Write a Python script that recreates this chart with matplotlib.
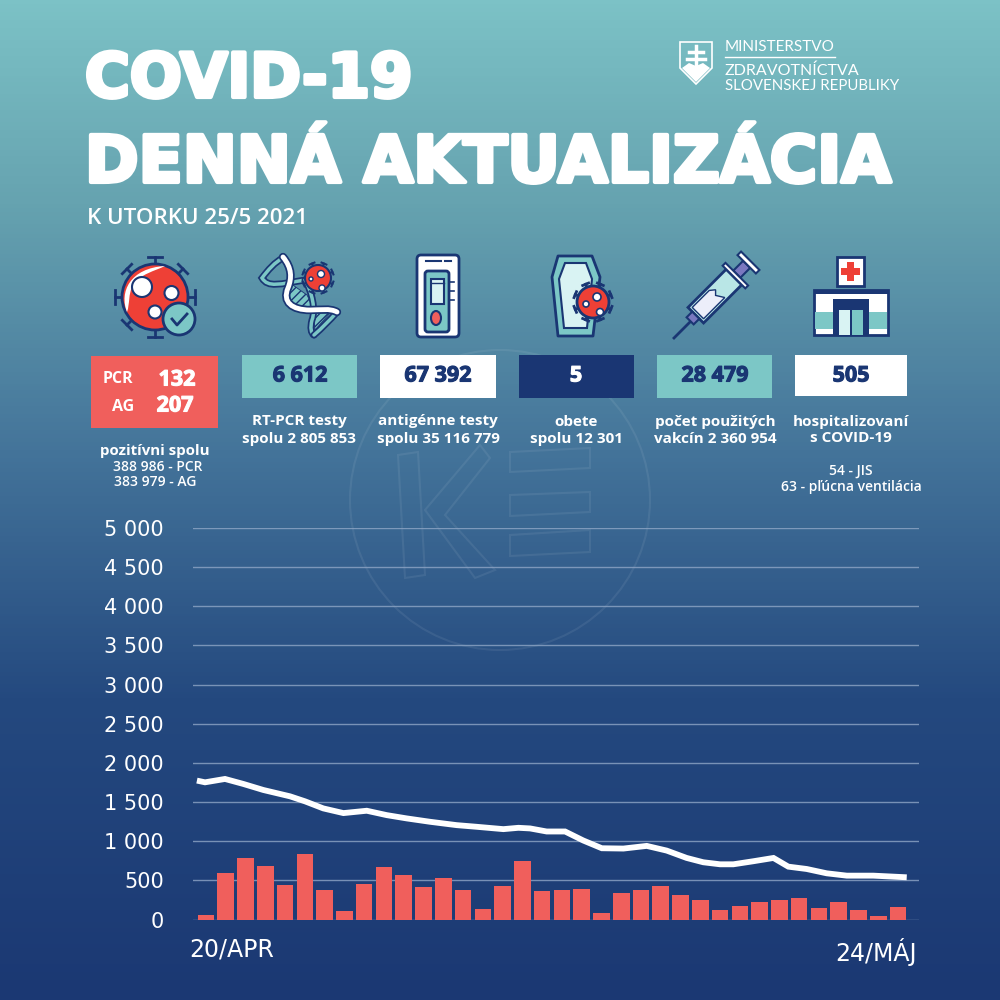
import matplotlib
matplotlib.use('Agg')
import matplotlib.pyplot as plt
import matplotlib.patheffects as pe
from matplotlib.colors import LinearSegmentedColormap
from matplotlib.patches import Circle, Rectangle, Polygon, FancyBboxPatch, Ellipse, PathPatch
from matplotlib.path import Path
import numpy as np

# daily new cases
bar_days = list(range(36))
bar_values = [55, 593, 780, 678, 443, 831, 380, 107, 456, 673, 567, 414, 524, 380, 140, 426, 746, 358,
              380, 395, 80, 335, 372, 428, 313, 249, 125, 168, 223, 244, 270, 146, 227, 125, 44, 159]

# moving average
line_days = [-0.46, -0.05, 0.96, 1.89, 2.90, 4.25, 5.01, 5.93, 6.95, 8.13, 9.14, 10.15, 11.33, 12.68,
             13.69, 15.04, 15.80, 16.39, 17.23, 18.16, 19.08, 20.02, 21.11, 22.29, 23.30, 24.31, 25.15,
             26.0, 26.67, 27.68, 28.70, 29.45, 30.38, 31.39, 32.41, 33.75, 35.44]
line_values = [1774, 1752, 1795, 1731, 1654, 1573, 1509, 1419, 1359, 1389, 1333, 1291, 1248, 1205,
               1184, 1154, 1171, 1163, 1124, 1124, 1009, 910, 906, 940, 880, 786, 731,
               705, 705, 744, 786, 675, 645, 590, 560, 560, 539]

y_ticks = [0, 500, 1000, 1500, 2000, 2500, 3000, 3500, 4000, 4500, 5000]
y_labels = ['0', '500', '1 000', '1 500', '2 000', '2 500', '3 000', '3 500', '4 000', '4 500', '5 000']

NAVY = '#1a3673'
TEAL = '#7cc7c6'
RED = '#f05f5c'
VIRUS = '#ee4036'
LIGHT = '#d9f3f3'
FONT = ['Open Sans', 'DejaVu Sans']
plt.rcParams['font.family'] = FONT

fig = plt.figure(figsize=(10, 10), dpi=100)

# background gradient
bg = fig.add_axes([0, 0, 1, 1], zorder=0)
cmap = LinearSegmentedColormap.from_list('bg', [(0, '#7cc2c6'), (0.2, '#66a3b0'), (0.45, '#44749a'),
                                                (0.7, '#24497f'), (1, '#1b3873')])
bg.imshow(np.linspace(0, 1, 500).reshape(-1, 1), cmap=cmap, aspect='auto', extent=[0, 1000, 1000, 0])
bg.set_xlim(0, 1000)
bg.set_ylim(1000, 0)
bg.axis('off')

# watermark
wm = dict(fill=False, ec='white', alpha=0.07, lw=1.5)
bg.add_patch(Circle((500, 500), 150, **wm))
bg.add_patch(Polygon([(398, 455), (418, 452), (425, 575), (405, 578)], **wm))
bg.add_patch(Polygon([(425, 510), (480, 445), (490, 458), (445, 515), (495, 570), (475, 578)], **wm))
bg.add_patch(Polygon([(510, 452), (590, 448), (590, 468), (510, 472)], **wm))
bg.add_patch(Polygon([(510, 495), (590, 492), (590, 512), (510, 516)], **wm))
bg.add_patch(Polygon([(510, 535), (590, 530), (590, 552), (510, 556)], **wm))

def txt(x, y, s, size, color='white', weight='normal', ha='center', **kw):
    kw.setdefault('va', 'center')
    return bg.text(x, y, s, fontsize=size, color=color, fontweight=weight, ha=ha, **kw)

thick = [pe.withStroke(linewidth=3, foreground='white')]
txt(85, 97, 'COVID-19', 44, weight='bold', ha='left', va='baseline', family='DejaVu Sans', path_effects=thick)
txt(85, 182, 'DENNÁ AKTUALIZÁCIA', 46.5, weight='bold', ha='left', va='baseline', family='DejaVu Sans', path_effects=thick)
txt(87, 219, 'K UTORKU 25/5 2021', 16, weight='semibold', ha='left')

# ministry logo
bg.add_patch(Polygon([(680, 42), (712, 42), (712, 68), (696, 84), (680, 68)], fc='none', ec='white', lw=1.2))
bg.add_patch(Polygon([(682, 68), (689, 63), (696, 66), (703, 63), (710, 68), (696, 82)], fc='white', ec='none'))
bg.plot([696, 696], [46, 65], color='white', lw=2.5)
bg.plot([689, 703], [52, 52], color='white', lw=2.5)
bg.plot([687, 705], [59, 59], color='white', lw=2.5)
txt(725, 47, 'MINISTERSTVO', 11, ha='left', family='Lato')
bg.plot([725, 835], [57, 57], color='white', lw=1)
txt(725, 71, 'ZDRAVOTNÍCTVA', 11.5, ha='left', family='Lato')
txt(725, 86, 'SLOVENSKEJ REPUBLIKY', 10.8, ha='left', family='Lato')

def virus(cx, cy, r, lw=2):
    for a in np.radians(np.arange(0, 360, 45) + 22.5 * (r < 30)):
        ca, sa = np.cos(a), np.sin(a)
        bg.plot([cx + r * ca, cx + (r + r * .2) * ca], [cy + r * sa, cy + (r + r * .2) * sa], color=NAVY, lw=lw)
        bg.plot([cx + 1.2 * r * ca - .2 * r * sa, cx + 1.2 * r * ca + .2 * r * sa],
                [cy + 1.2 * r * sa + .2 * r * ca, cy + 1.2 * r * sa - .2 * r * ca], color=NAVY, lw=lw)
    bg.add_patch(Circle((cx, cy), r, fc=VIRUS, ec=NAVY, lw=lw, zorder=3))

def curve(start, *segs):
    verts, codes = [start], [Path.MOVETO]
    for s in segs:
        verts += list(s)
        codes += [Path.CURVE4] * 3
    return Path(verts, codes)

# positive cases icon
virus(155, 297, 33)
crescent = curve((127, 312), [(119, 292), (130, 268), (165, 266)], [(155, 271), (140, 274), (133, 285)],
                 [(128, 294), (130, 304), (127, 312)])
bg.add_patch(PathPatch(crescent, fc='white', ec='none', zorder=4))
for c, r in [((142, 287), 10), ((171.5, 293), 7), ((155, 312), 6.5)]:
    bg.add_patch(Circle(c, r, fc='white', ec=NAVY, lw=1.5, zorder=4))
bg.add_patch(Circle((179, 319), 16, fc=TEAL, ec=NAVY, lw=2, zorder=5))
bg.plot([172, 177, 187], [319, 325, 314], color=NAVY, lw=2, zorder=6)

# DNA icon
bg.add_patch(Polygon([(290, 283), (307, 295), (313, 307), (293, 305), (287, 292)], fc=TEAL, ec='none', zorder=2))
bg.add_patch(Polygon([(290, 283), (307, 295), (313, 307), (293, 305), (287, 292)], fill=False, ec=NAVY, lw=0.6, hatch='////', zorder=2))
bg.add_patch(Polygon([(313, 313), (330, 313), (315, 330)], fc=TEAL, ec='none', zorder=2))
bg.add_patch(Polygon([(313, 313), (330, 313), (315, 330)], fill=False, ec=NAVY, lw=0.6, hatch='////', zorder=2))
dna_back = [curve((283, 258), [(275, 262), (268, 270), (262, 278)], [(268, 288), (280, 284), (305, 280)]),
            curve((305, 280), [(312, 292), (316, 310), (312, 320)], [(310, 328), (311, 333), (314, 335)]),
            curve((337, 312), [(330, 320), (322, 328), (314, 335)])]
for p in dna_back:
    bg.add_patch(PathPatch(p, fc='none', ec=NAVY, lw=5, capstyle='round', zorder=2))
    bg.add_patch(PathPatch(p, fc='none', ec=TEAL, lw=2.5, capstyle='round', zorder=2))
dna_front = curve((283, 257), [(292, 268), (292, 278), (288, 288)], [(282, 302), (292, 310), (310, 310)],
                  [(320, 310), (330, 308), (337, 312)])
bg.add_patch(PathPatch(dna_front, fc='none', ec=NAVY, lw=6, capstyle='round', zorder=3))
bg.add_patch(PathPatch(dna_front, fc='none', ec='white', lw=3.5, capstyle='round', zorder=3))
virus(318, 278, 13, lw=1.5)
for c, r in [((321, 274), 3.5), ((311, 279), 2), ((322, 288), 3)]:
    bg.add_patch(Circle(c, r, fc='white', ec=NAVY, lw=1, zorder=4))

# antigen test icon
bg.add_patch(FancyBboxPatch((419, 257), 38, 78, boxstyle='round,pad=2,rounding_size=4', fc='white', ec=NAVY, lw=2))
bg.plot([426, 441], [261, 261], color=NAVY, lw=1.5)
bg.plot([445, 451], [261, 261], color=NAVY, lw=1.5)
bg.add_patch(FancyBboxPatch((426, 272), 22, 59, boxstyle='round,pad=1,rounding_size=3', fc=TEAL, ec=NAVY, lw=2))
bg.add_patch(Rectangle((431, 279), 13, 25, fc=LIGHT, ec=NAVY, lw=1.5))
bg.plot([431, 444], [283, 283], color=NAVY, lw=1)
bg.add_patch(Ellipse((436, 318), 10, 14, fc=RED, ec=NAVY, lw=1.5))
for y in [282, 291, 300]:
    bg.plot([449, 454], [y, y], color=NAVY, lw=1.2)

# deaths icon
bg.add_patch(Polygon([(558, 256), (592, 256), (600, 277), (593, 336), (558, 336), (552, 277)], fc=TEAL, ec=NAVY, lw=2,
                     joinstyle='round'))
bg.add_patch(Polygon([(565, 263), (586, 263), (592, 279), (587, 328), (564, 328), (559, 279)], fc=LIGHT, ec=NAVY, lw=1.5))
virus(593, 302, 16)
for c, r in [((597, 297), 4), ((586, 304), 3), ((600, 312), 3.5)]:
    bg.add_patch(Circle(c, r, fc='white', ec=NAVY, lw=1.2, zorder=4))

# vaccine icon
def rot(pts, cx=717, cy=294, deg=-45):
    a = np.radians(deg)
    return [(cx + x * np.cos(a) - y * np.sin(a), cy + x * np.sin(a) + y * np.cos(a)) for x, y in pts]

bg.plot([674, 694], [338, 318], color=NAVY, lw=2)
bg.add_patch(Polygon(rot([(-30, -11), (24, -11), (24, 11), (-30, 11)]), fc='#b9e6e6', ec=NAVY, lw=2, zorder=3))
bg.add_patch(Polygon(rot([(-27, -8), (-3, -8), (2, -4), (-2, 0), (3, 8), (-27, 8)]), fc='#eceefa', ec=NAVY, lw=1, zorder=4))
bg.add_patch(Polygon(rot([(-38, -5), (-30, -5), (-30, 5), (-38, 5)]), fc='#7a78c0', ec=NAVY, lw=1.5, zorder=3))
bg.add_patch(Polygon(rot([(24, -16), (28, -16), (28, 16), (24, 16)]), fc='white', ec=NAVY, lw=1.5, zorder=4))
bg.add_patch(Polygon(rot([(28, -5), (42, -5), (42, 5), (28, 5)]), fc='#7a78c0', ec=NAVY, lw=1.5, zorder=3))
bg.add_patch(Polygon(rot([(42, -13), (47, -13), (47, 13), (42, 13)]), fc='white', ec=NAVY, lw=1.5, zorder=4))

# hospital icon
bg.add_patch(Rectangle((837, 257), 27, 29, fc='white', ec=NAVY, lw=2))
bg.add_patch(Rectangle((847, 262), 7, 19, fc=VIRUS, ec='none'))
bg.add_patch(Rectangle((841, 268), 19, 7, fc=VIRUS, ec='none'))
bg.add_patch(Rectangle((814, 290), 74, 45, fc='white', ec=NAVY, lw=2))
bg.add_patch(Rectangle((814, 290), 74, 4, fc=NAVY, ec='none'))
bg.add_patch(Rectangle((815, 312), 72, 17, fc=TEAL, ec='none'))
bg.add_patch(Rectangle((833, 299), 36, 36, fc=NAVY, ec='none'))
bg.add_patch(Rectangle((839, 310), 11, 25, fc=LIGHT, ec='none'))
bg.add_patch(Rectangle((852, 310), 11, 25, fc=TEAL, ec='none'))

# number boxes
for x0, y0, x1, y1, c in [(91, 356, 218, 428, RED), (242, 355, 357, 398, TEAL), (380, 355, 496, 398, 'white'),
                          (519, 355, 634, 398, NAVY), (657, 355, 772, 398, TEAL), (795, 355, 907, 396, 'white')]:
    bg.add_patch(Rectangle((x0, y0), x1 - x0, y1 - y0, fc=c, ec='none'))

val = [pe.withStroke(linewidth=0.8, foreground=NAVY)]
txt(118, 379, 'PCR', 11.5, weight='bold')
txt(123, 407, 'AG', 11.5, weight='bold')
wh = [pe.withStroke(linewidth=0.8, foreground='white')]
txt(177, 380, '132', 15.5, weight='bold', path_effects=wh)
txt(175, 406, '207', 15.5, weight='bold', path_effects=wh)
txt(300, 376, '6 612', 15.5, NAVY, 'bold', path_effects=val)
txt(438, 376, '67 392', 15.5, NAVY, 'bold', path_effects=val)
txt(576, 376, '5', 15.5, 'white', 'bold', path_effects=wh)
txt(715, 376, '28 479', 15.5, NAVY, 'bold', path_effects=val)
txt(851, 376, '505', 15.5, NAVY, 'bold', path_effects=val)

# labels under boxes
txt(155, 451, 'pozitívni spolu', 10.8, weight='bold')
txt(158, 467, '388 986 - PCR', 10, weight='semibold')
txt(155, 482, '383 979 - AG', 10, weight='semibold')
txt(299, 421, 'RT-PCR testy', 11, weight='bold')
txt(299, 439, 'spolu 2 805 853', 11, weight='bold')
txt(438, 421, 'antigénne testy', 11, weight='bold')
txt(438, 439, 'spolu 35 116 779', 11, weight='bold')
txt(576, 422, 'obete', 11, weight='bold')
txt(576, 439, 'spolu 12 301', 11, weight='bold')
txt(715, 422, 'počet použitých', 11, weight='bold')
txt(715, 439, 'vakcín 2 360 954', 11, weight='bold')
txt(851, 422, 'hospitalizovaní', 11, weight='bold')
txt(851, 438, 's COVID-19', 11, weight='bold')
txt(851, 471, '54 - JIS', 10, weight='semibold')
txt(851, 487, '63 - pľúcna ventilácia', 10, weight='semibold')

# chart
ax = fig.add_axes([0.193, 1 - 0.9195, 0.726, 0.3915], zorder=2)
ax.patch.set_alpha(0)
ax.bar(bar_days, bar_values, width=0.84, color=RED, zorder=2)
ax.plot(line_days, line_values, color='white', lw=4.2, solid_joinstyle='miter', solid_capstyle='butt', zorder=3)
ax.set_xlim(-0.658, 36.06)
ax.set_ylim(0, 5000)
ax.set_yticks(y_ticks)
ax.set_yticklabels(y_labels, fontsize=15, color='white', family='DejaVu Sans')
ax.set_xticks([1.3, 33.9])
ax.set_xticklabels(['20/APR', '24/MÁJ'], fontsize=17, color='white', family='DejaVu Sans')
ax.tick_params(length=0, axis='y', pad=21)
ax.tick_params(length=0, axis='x', pad=13)
ax.grid(axis='y', color='#8fa6c6', lw=1, alpha=0.8, zorder=1)
for s in ax.spines.values():
    s.set_visible(False)

fig.savefig('out.png', dpi=100)
